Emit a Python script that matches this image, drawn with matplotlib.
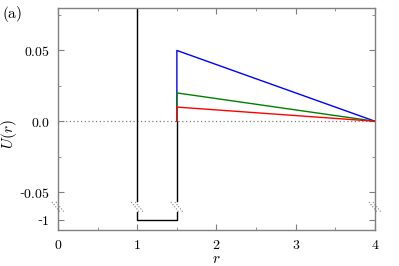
import matplotlib
matplotlib.use('Agg')
import matplotlib.pyplot as plt
import matplotlib.transforms as mtransforms
import numpy as np

plt.rcParams['mathtext.fontset'] = 'cm'
plt.rcParams['font.family'] = 'serif'
plt.rcParams['font.serif'] = ['DejaVu Serif']

# shoulder heights (blue, green, red)
heights = [0.05, 0.02, 0.01]
colors = ['blue', 'green', 'red']
r_in, r_well, r_out = 1.0, 1.5, 4.0
U_well = -1.0

yticks = [-1, -0.05, 0.0, 0.05]
yticklabels = ['-$1$', '-$0.05$', '$0.0$', '$0.05$']
yminor = [-0.025, 0.025, 0.075]
xticks = [0, 1, 2, 3, 4]
xminor = [0.5, 1.5, 2.5, 3.5]

# broken y axis: identity above the break, compressed below it
ybrk = -0.06
k = 0.01032
def fwd(y):
    y = np.asarray(y, dtype=float)
    return np.where(y >= ybrk, y, ybrk + (y - ybrk) * k)
def inv(f):
    f = np.asarray(f, dtype=float)
    return np.where(f >= ybrk, f, ybrk + (f - ybrk) / k)

fig = plt.figure(figsize=(3.99, 2.66), dpi=100)
ax = fig.add_axes([0.1454, 0.1353, 0.7944, 0.8347])
ax.set_yscale('function', functions=(fwd, inv))

grey = '#808080'
ax.axhline(0, color=grey, lw=0.9, ls=(0, (1, 2)), zorder=1)

# hard core wall and square well, gap at the axis break
gap_hi, gap_lo = -0.056, -0.45
ax.plot([r_in, r_in], [0.5, gap_hi], color='black', lw=1.0, zorder=2)
ax.plot([r_in, r_in, r_well, r_well], [gap_lo, U_well, U_well, gap_lo], color='black', lw=1.0, zorder=2)
ax.plot([r_well, r_well], [gap_hi, 0], color='black', lw=1.0, zorder=2)

for h, c in zip(heights, colors):
    ax.plot([r_well, r_well, r_out], [0, h, 0], color=c, lw=1.0, zorder=3)

ax.set_xlim(0, 4)
ax.set_ylim(-1.69, 0.08)
ax.set_xticks(xticks)
ax.set_xticklabels(['$%d$' % v for v in xticks])
ax.set_xticks(xminor, minor=True)
ax.set_yticks(yticks)
ax.set_yticklabels(yticklabels)
ax.set_yticks(yminor, minor=True)
ax.tick_params(which='both', direction='in', top=True, right=True, color=grey,
               labelsize=10, pad=6)
ax.tick_params(which='major', length=4)
ax.tick_params(which='minor', length=2.5)
for s in ax.spines.values():
    s.set_color(grey)
    s.set_linewidth(1.0)

ax.set_xlabel('$r$', fontsize=11)
ax.xaxis.set_label_coords(0.5, -0.098)
ax.set_ylabel('$U(r)$', fontsize=11)
ax.yaxis.set_label_coords(-0.122, 0.43)
fig.text(0.005, 0.985, r'$\mathrm{(a)}$', fontsize=11, va='top', ha='left')

# break marks
ybreak_ax = 0.1036
blend_ax = mtransforms.blended_transform_factory(ax.transAxes, ax.transAxes)
blend_dat = mtransforms.blended_transform_factory(ax.transData, ax.transAxes)
for xb, tr in [(0, blend_ax), (r_in, blend_dat), (r_well, blend_dat), (1, blend_ax)]:
    for dx in (-2, 2):
        t1 = mtransforms.offset_copy(tr, fig=fig, x=dx - 4, y=5, units='dots')
        t2 = mtransforms.offset_copy(tr, fig=fig, x=dx + 4, y=-5, units='dots')
        p1 = t1.transform((xb, ybreak_ax))
        p2 = t2.transform((xb, ybreak_ax))
        ln = plt.Line2D([p1[0], p2[0]], [p1[1], p2[1]], transform=None,
                        color=grey, lw=0.8, ls=(0, (1, 1.5)), clip_on=False)
        fig.add_artist(ln)

fig.savefig('out.png', dpi=100)
